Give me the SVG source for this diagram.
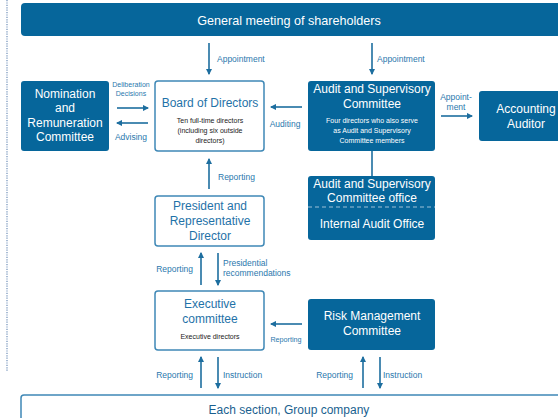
<svg xmlns="http://www.w3.org/2000/svg" width="558" height="418" viewBox="0 0 558 418">
<defs>
<marker id="ah" viewBox="0 0 6 6" refX="5" refY="3" markerWidth="4" markerHeight="4" orient="auto">
<path d="M0,0 L6,3 L0,6 z" fill="#1d6e9f"/>
</marker>
<style>
.fb{fill:#06669b;}
.wb{fill:#ffffff;stroke:#3f88b6;stroke-width:1.5;}
.wt{font-family:"Liberation Sans",Arial,sans-serif;font-size:12px;fill:#ffffff;text-anchor:middle;}
.bt{font-family:"Liberation Sans",Arial,sans-serif;font-size:12px;fill:#1f72a8;text-anchor:middle;}
.st{font-family:"Liberation Sans",Arial,sans-serif;font-size:7px;fill:#1a1a1a;text-anchor:middle;}
.sw{font-family:"Liberation Sans",Arial,sans-serif;font-size:7px;fill:#ffffff;text-anchor:middle;}
.lb{font-family:"Liberation Sans",Arial,sans-serif;font-size:8.5px;fill:#2a78ad;}
.ar{stroke:#1d6e9f;stroke-width:1.6;fill:none;marker-end:url(#ah);}
.ln{stroke:#1d6e9f;stroke-width:1.6;fill:none;}
</style>
</defs>
<line x1="7" y1="0" x2="7" y2="372" stroke="#6f8fb8" stroke-width="1.2" stroke-dasharray="1.2,1.2"/>

<g id="gms">
<rect class="fb" x="21" y="3" width="545" height="33" rx="4"/>
<text class="wt" x="289" y="25" style="font-size:12.6px">General meeting of shareholders</text>
</g>

<g id="nomination">
<rect class="fb" x="21" y="81" width="88" height="70" rx="3"/>
<text class="wt" x="65" y="98">Nomination</text>
<text class="wt" x="65" y="112">and</text>
<text class="wt" x="65" y="127">Remuneration</text>
<text class="wt" x="65" y="141">Committee</text>
</g>

<g id="board">
<rect class="wb" x="155" y="81" width="109" height="70" rx="3"/>
<text class="bt" x="210" y="107">Board of Directors</text>
<text class="st" x="210" y="123">Ten full-time directors</text>
<text class="st" x="210" y="133">(including six outside</text>
<text class="st" x="210" y="143">directors)</text>
</g>

<g id="audit">
<rect class="fb" x="308" y="81" width="127" height="70" rx="3"/>
<text class="wt" x="372" y="93">Audit and Supervisory</text>
<text class="wt" x="372" y="108">Committee</text>
<text class="sw" x="372" y="123">Four  directors who also serve</text>
<text class="sw" x="372" y="133">as Audit and Supervisory</text>
<text class="sw" x="372" y="143">Committee members</text>
</g>

<g id="accounting">
<rect class="fb" x="479" y="91" width="90" height="50" rx="3"/>
<text class="wt" x="526" y="113">Accounting</text>
<text class="wt" x="526" y="128">Auditor</text>
</g>

<g id="auditoffice">
<rect class="fb" x="308" y="176" width="127" height="64" rx="3"/>
<text class="wt" x="372" y="188">Audit and Supervisory</text>
<text class="wt" x="372" y="202">Committee office</text>
<line x1="308" y1="207" x2="435" y2="207" stroke="#9cc0d8" stroke-width="1.2" stroke-dasharray="4,3"/>
<text class="wt" x="372" y="228">Internal Audit Office</text>
</g>

<g id="president">
<rect class="wb" x="155" y="196" width="109" height="50" rx="3"/>
<text class="bt" x="210" y="210">President and</text>
<text class="bt" x="210" y="225">Representative</text>
<text class="bt" x="210" y="240">Director</text>
</g>

<g id="executive">
<rect class="wb" x="155" y="291" width="109" height="59" rx="3"/>
<text class="bt" x="210" y="308">Executive</text>
<text class="bt" x="210" y="323">committee</text>
<text class="st" x="210" y="339">Executive  directors</text>
</g>

<g id="risk">
<rect class="fb" x="308" y="299" width="127" height="51" rx="3"/>
<text class="wt" x="372" y="320">Risk Management</text>
<text class="wt" x="372" y="335">Committee</text>
</g>

<g id="sections">
<rect class="wb" x="21" y="395" width="545" height="30" rx="3"/>
<text class="bt" x="289" y="414" style="fill:#1a5f8f">Each section, Group company</text>
</g>

<g id="connectors">
<line class="ar" x1="209" y1="43" x2="209" y2="74"/>
<text class="lb" x="217" y="62">Appointment</text>
<line class="ar" x1="372" y1="43" x2="372" y2="74"/>
<text class="lb" x="377" y="62">Appointment</text>

<line class="ar" x1="117" y1="108" x2="148" y2="108"/>
<text class="lb" x="131" y="87" text-anchor="middle" style="font-size:7px">Deliberation</text>
<text class="lb" x="131" y="96" text-anchor="middle" style="font-size:7px">Decisions</text>
<line class="ar" x1="148" y1="123" x2="117" y2="123"/>
<text class="lb" x="131" y="140" text-anchor="middle">Advising</text>

<line class="ar" x1="302" y1="107" x2="271" y2="107"/>
<text class="lb" x="285" y="127" text-anchor="middle">Auditing</text>

<line class="ar" x1="441" y1="116" x2="472" y2="116"/>
<text class="lb" x="456" y="100" text-anchor="middle">Appoint-</text>
<text class="lb" x="456" y="110" text-anchor="middle">ment</text>

<line class="ln" x1="372" y1="151" x2="372" y2="176"/>

<line class="ar" x1="209" y1="189" x2="209" y2="159"/>
<text class="lb" x="218" y="180">Reporting</text>

<line class="ar" x1="201" y1="285" x2="201" y2="253"/>
<text class="lb" x="193" y="272" text-anchor="end">Reporting</text>
<line class="ar" x1="218" y1="253" x2="218" y2="285"/>
<text class="lb" x="223" y="266">Presidential</text>
<text class="lb" x="223" y="276">recommendations</text>

<line class="ar" x1="302" y1="324" x2="271" y2="324"/>
<text class="lb" x="286" y="342" text-anchor="middle" style="font-size:7.2px">Reporting</text>

<line class="ar" x1="201" y1="388" x2="201" y2="357"/>
<text class="lb" x="193" y="378" text-anchor="end">Reporting</text>
<line class="ar" x1="218" y1="357" x2="218" y2="388"/>
<text class="lb" x="223" y="378">Instruction</text>

<line class="ar" x1="363" y1="388" x2="363" y2="357"/>
<text class="lb" x="353" y="378" text-anchor="end">Reporting</text>
<line class="ar" x1="380" y1="357" x2="380" y2="388"/>
<text class="lb" x="383" y="378">Instruction</text>
</g>
</svg>
